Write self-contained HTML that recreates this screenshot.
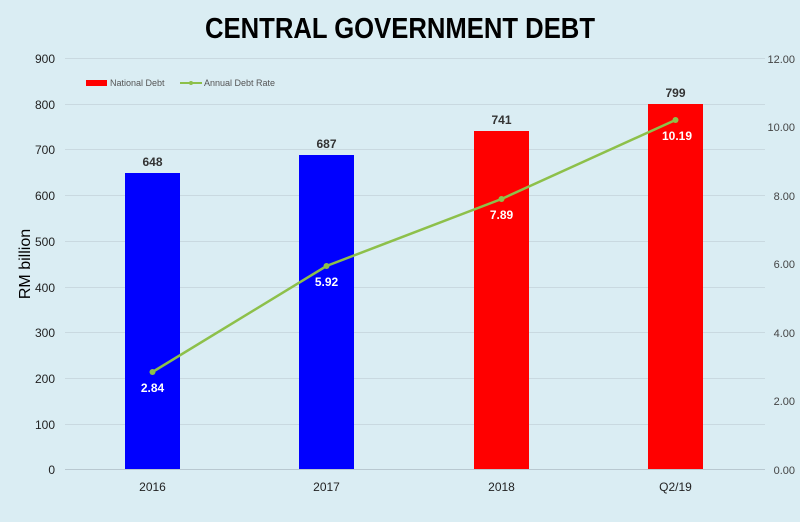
<!DOCTYPE html>
<html><head><meta charset="utf-8"><style>
body{margin:0;background:#daedf3;}
svg{display:block;font-family:"Liberation Sans",sans-serif;}
</style></head><body>
<svg width="800" height="522" viewBox="0 0 800 522">
<rect width="800" height="522" fill="#daedf3"/>
<text x="205" y="38" font-size="29" font-weight="bold" fill="#000" textLength="390" lengthAdjust="spacingAndGlyphs">CENTRAL GOVERNMENT DEBT</text>
<g stroke="#c9d9e0" stroke-width="1">
<line x1="65" x2="765" y1="58.5" y2="58.5"/><line x1="65" x2="765" y1="104.5" y2="104.5"/>
<line x1="65" x2="765" y1="149.5" y2="149.5"/><line x1="65" x2="765" y1="195.5" y2="195.5"/>
<line x1="65" x2="765" y1="241.5" y2="241.5"/><line x1="65" x2="765" y1="287.5" y2="287.5"/>
<line x1="65" x2="765" y1="332.5" y2="332.5"/><line x1="65" x2="765" y1="378.5" y2="378.5"/>
<line x1="65" x2="765" y1="424.5" y2="424.5"/>
</g>
<line x1="65" x2="765" y1="469.5" y2="469.5" stroke="#b8c8d0"/>
<g font-size="12" fill="#222" text-anchor="end">
<text x="55" y="63">900</text><text x="55" y="109">800</text><text x="55" y="154">700</text>
<text x="55" y="200">600</text><text x="55" y="246">500</text><text x="55" y="292">400</text>
<text x="55" y="337">300</text><text x="55" y="383">200</text><text x="55" y="429">100</text><text x="55" y="474">0</text>
</g>
<g font-size="11" fill="#444" text-anchor="end">
<text x="795" y="63">12.00</text><text x="795" y="131">10.00</text><text x="795" y="200">8.00</text>
<text x="795" y="268">6.00</text><text x="795" y="337">4.00</text><text x="795" y="405">2.00</text><text x="795" y="474">0.00</text>
</g>
<text transform="translate(30,264) rotate(-90)" text-anchor="middle" font-size="16" fill="#000">RM billion</text>
<rect x="86" y="80" width="21" height="6" fill="#f00"/>
<text x="110" y="86" font-size="9" fill="#555">National Debt</text>
<line x1="180" x2="202" y1="83" y2="83" stroke="#8dc04a" stroke-width="2"/><circle cx="191" cy="83" r="2" fill="#8dc04a"/>
<text x="204" y="86" font-size="9" fill="#555">Annual Debt Rate</text>
<rect x="125" y="173" width="55" height="296" fill="#0000ff"/>
<rect x="299" y="155" width="55" height="314" fill="#0000ff"/>
<rect x="474" y="131" width="55" height="338" fill="#ff0000"/>
<rect x="648" y="104" width="55" height="365" fill="#ff0000"/>
<g font-size="12" font-weight="bold" fill="#333" text-anchor="middle">
<text x="152.5" y="166">648</text><text x="326.5" y="148">687</text><text x="501.5" y="124">741</text><text x="675.5" y="97">799</text>
</g>
<polyline points="152.5,372 326.5,266 501.5,199 675.5,120" fill="none" stroke="#8dc04a" stroke-width="2.5"/>
<g fill="#8dc04a"><circle cx="152.5" cy="372" r="3"/><circle cx="326.5" cy="266" r="3"/><circle cx="501.5" cy="199" r="3"/><circle cx="675.5" cy="120" r="3"/></g>
<g font-size="12" font-weight="bold" fill="#fff" text-anchor="middle">
<text x="152.5" y="392">2.84</text><text x="326.5" y="286">5.92</text><text x="501.5" y="219">7.89</text><text x="677" y="140">10.19</text>
</g>
<g font-size="12" fill="#222" text-anchor="middle">
<text x="152.5" y="491">2016</text><text x="326.5" y="491">2017</text><text x="501.5" y="491">2018</text><text x="675.5" y="491">Q2/19</text>
</g>
</svg>
</body></html>
